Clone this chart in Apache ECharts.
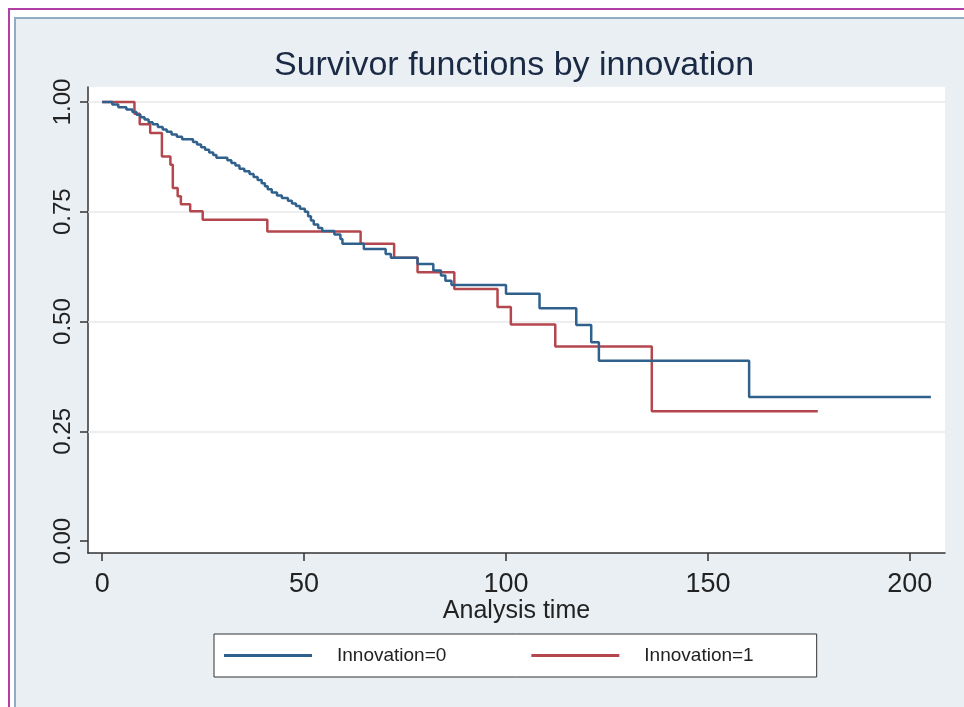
<!DOCTYPE html>
<html>
<head>
<meta charset="utf-8">
<script src="https://cdn.jsdelivr.net/npm/echarts@6/dist/echarts.min.js"></script>
<style>
  html, body { margin: 0; padding: 0; background: #ffffff; }
  #chart { width: 964px; height: 707px; }
</style>
</head>
<body>
<div id="chart"></div>
<script>
// Kaplan-Meier survivor estimates, Innovation = 0 (time at which each step occurs, survival after it)
const timeInnov0 = [0, 2.5, 4.0, 6.0, 7.5, 8.5, 9.5, 10.5, 11.5, 12.5, 13.8, 15.0, 16.0, 17.2, 18.5, 19.8,
  22.5, 23.5, 24.5, 25.5, 26.5, 27.5, 28.3, 31.0, 32.0, 33.0, 34.0, 35.2, 36.5, 37.5, 38.5, 39.5, 40.3,
  41.0, 42.0, 43.3, 44.5, 46.0, 47.0, 48.0, 49.0, 50.2, 51.0, 51.7, 52.4, 53.5, 54.5, 57.5, 59.0, 59.5,
  64.8, 70.2, 71.5, 78.1, 82.0, 83.9, 85.0, 86.5, 100.0, 108.3, 117.4, 121.1, 123.0, 160.2, 205.2];
const survInnov0 = [1.000, 0.994, 0.988, 0.983, 0.977, 0.971, 0.965, 0.960, 0.954, 0.949, 0.943, 0.937, 0.932, 0.926, 0.921, 0.915,
  0.909, 0.903, 0.897, 0.891, 0.885, 0.879, 0.873, 0.867, 0.861, 0.855, 0.848, 0.842, 0.836, 0.829, 0.822, 0.815, 0.808,
  0.801, 0.794, 0.787, 0.781, 0.775, 0.769, 0.763, 0.757, 0.750, 0.740, 0.730, 0.721, 0.713, 0.706, 0.698, 0.688, 0.677,
  0.665, 0.654, 0.645, 0.631, 0.616, 0.605, 0.593, 0.583, 0.563, 0.530, 0.492, 0.453, 0.411, 0.328, 0.328];

// Kaplan-Meier survivor estimates, Innovation = 1
const timeInnov1 = [0, 8.0, 9.3, 11.9, 14.8, 16.9, 17.5, 18.7, 19.5, 21.8, 24.9, 40.9, 64.0, 72.3, 78.1, 87.2,
  97.9, 101.2, 112.2, 136.1, 177.2];
const survInnov1 = [1.000, 0.973, 0.949, 0.929, 0.876, 0.857, 0.804, 0.785, 0.767, 0.751, 0.732, 0.705, 0.677, 0.645, 0.612, 0.574,
  0.533, 0.493, 0.443, 0.296, 0.296];

const seriesNames = ['Innovation=0', 'Innovation=1'];
const xTicks = [0, 50, 100, 150, 200];
const yTicks = [0, 0.25, 0.5, 0.75, 1];
const gridValues = [0.25, 0.5, 0.75, 1];

const pairs = (t, s) => t.map((v, i) => [v, s[i]]);

const chart = echarts.init(document.getElementById('chart'), null, { renderer: 'canvas' });

const axisDark = '#333333';
const font = "Arial, 'Liberation Sans', Helvetica, sans-serif";

chart.setOption({
  animation: false,
  backgroundColor: '#ffffff',
  textStyle: { fontFamily: font },
  graphic: {
    elements: [
      { type: 'rect', z: -100, shape: { x: 9, y: 9, width: 980, height: 720 },
        style: { fill: '#ffffff', stroke: '#b23fa5', lineWidth: 2 } },
      { type: 'rect', z: -99, shape: { x: 15, y: 18, width: 980, height: 720 },
        style: { fill: '#e9eff3', stroke: '#8eadc5', lineWidth: 2 } }
    ]
  },
  title: {
    text: 'Survivor functions by innovation',
    left: 274,
    top: 49,
    padding: 0,
    textStyle: { fontSize: 34, fontWeight: 'normal', color: '#1b2a44', fontFamily: font }
  },
  legend: {
    data: seriesNames,
    left: 214,
    top: 634,
    orient: 'horizontal',
    icon: 'rect',
    itemWidth: 88,
    itemHeight: 3,
    itemGap: 85,
    padding: [12, 63, 12, 10],
    backgroundColor: '#ffffff',
    borderColor: '#333333',
    borderWidth: 1,
    borderRadius: 0,
    textStyle: { fontSize: 19, color: '#222222', padding: [0, 0, 0, 20], fontFamily: font }
  },
  grid: {
    left: 88,
    right: 19,
    top: 87,
    bottom: 154,
    show: true,
    backgroundColor: '#ffffff',
    borderWidth: 0,
    containLabel: false
  },
  xAxis: {
    type: 'value',
    min: -3.5,
    max: 208.7,
    name: 'Analysis time',
    nameLocation: 'middle',
    nameGap: 46,
    nameMoveOverlap: false,
    nameTextStyle: { fontSize: 25, color: '#222222', fontFamily: font },
    axisLine: { show: true, onZero: false, lineStyle: { color: axisDark, width: 1.5 } },
    axisTick: { show: true, inside: false, length: 8, customValues: xTicks, lineStyle: { color: axisDark, width: 1.5 } },
    axisLabel: { customValues: xTicks, fontSize: 27, color: '#222222', margin: 18, fontFamily: font },
    splitLine: { show: false }
  },
  yAxis: {
    type: 'value',
    min: -0.027,
    max: 1.034,
    axisLine: { show: true, onZero: false, lineStyle: { color: axisDark, width: 1.5 } },
    axisTick: { show: true, inside: false, length: 8, customValues: yTicks, lineStyle: { color: axisDark, width: 1.5 } },
    axisLabel: {
      customValues: yTicks,
      rotate: 90,
      fontSize: 24,
      color: '#222222',
      margin: 13,
      fontFamily: font,
      formatter: v => v.toFixed(2)
    },
    splitLine: { show: false }
  },
  series: [
    {
      name: seriesNames[0],
      type: 'line',
      step: 'end',
      showSymbol: false,
      color: '#30608c',
      lineStyle: { width: 2.5, color: '#30608c' },
      data: pairs(timeInnov0, survInnov0),
      z: 3,
      markLine: {
        silent: true,
        symbol: ['none', 'none'],
        label: { show: false },
        lineStyle: { color: '#e8e8e8', width: 1.5, type: 'solid' },
        data: gridValues.map(v => ({ yAxis: v })),
        z: 1
      }
    },
    {
      name: seriesNames[1],
      type: 'line',
      step: 'end',
      showSymbol: false,
      color: '#b4474e',
      lineStyle: { width: 2.5, color: '#b4474e' },
      data: pairs(timeInnov1, survInnov1),
      z: 2
    }
  ]
});
</script>
</body>
</html>
